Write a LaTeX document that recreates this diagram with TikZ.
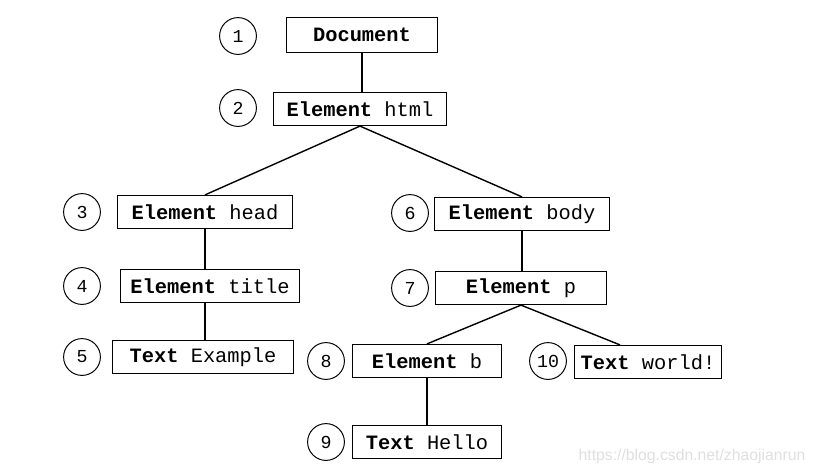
\documentclass[tikz,border=0pt]{standalone}
\usepackage{fontspec}
\setmonofont{Liberation Mono}
\setsansfont{Liberation Sans}
\begin{document}
\begin{tikzpicture}[x=0.025cm,y=-0.025cm]

        \useasboundingbox (0,0) rectangle (814,474);

        \begin{scope}[every node/.style={circle,draw,line width=0.7pt,minimum size=0.92cm,inner sep=0pt,font=\ttfamily\fontsize{13}{15}\selectfont}]
          \node (n1)  at (238,36)  {1};
          \node (n2)  at (238,108) {2};
          \node (n3)  at (82,212)  {3};
          \node (n4)  at (82,286)  {4};
          \node (n5)  at (82,357)  {5};
          \node (n6)  at (410,213) {6};
          \node (n7)  at (410,288) {7};
          \node (n8)  at (326,361) {8};
          \node (n9)  at (326,442) {9};
          \node (n10) at (548,361) {10};
        \end{scope}

        \begin{scope}[every node/.style={rectangle,draw,line width=0.7pt,minimum height=0.83cm,inner sep=2pt,font=\ttfamily\fontsize{14.5}{16}\selectfont}]
          \node[minimum width=3.75cm,minimum height=0.87cm] (doc) at (362,35)  {\bfseries Document};
          \node[minimum width=4.33cm] (html)    at (360,109) {\textbf{Element} html};
          \node[minimum width=4.35cm] (head)    at (205,212) {\textbf{Element} head};
          \node[minimum width=4.45cm] (title)   at (210,286) {\textbf{Element} title};
          \node[minimum width=4.53cm] (example) at (203,357) {\textbf{Text} Example};
          \node[minimum width=4.35cm] (body)    at (522,214) {\textbf{Element} body};
          \node[minimum width=4.28cm] (p)       at (521,288) {\textbf{Element} p};
          \node[minimum width=3.73cm] (b)       at (427,361) {\textbf{Element} b};
          \node[minimum width=3.68cm] (world)   at (648,362) {\textbf{Text} world!};
          \node[minimum width=3.73cm] (hello)   at (427,442) {\textbf{Text} Hello};
        \end{scope}

        \begin{scope}[every path/.style={draw,line width=1pt}]
          \path (doc.south)  -- (doc.south |- html.north);
          \path (html.south) -- (head.north);
          \path (html.south) -- (body.north);
          \path (head.south) -- (head.south |- title.north);
          \path (head.south |- title.south) -- (head.south |- example.north);
          \path (body.south) -- (body.south |- p.north);
          \path (p.south)    -- (b.north);
          \path (p.south)    -- ([xshift=-0.7cm]world.north);
          \path (b.south)    -- (hello.north);
        \end{scope}

        \node[font=\sffamily\fontsize{11.2}{13}\selectfont,text=gray!25,inner sep=0pt] (mark) at (692,456) {https://blog.csdn.net/zhaojianrun};

      \end{tikzpicture}
\end{document}
